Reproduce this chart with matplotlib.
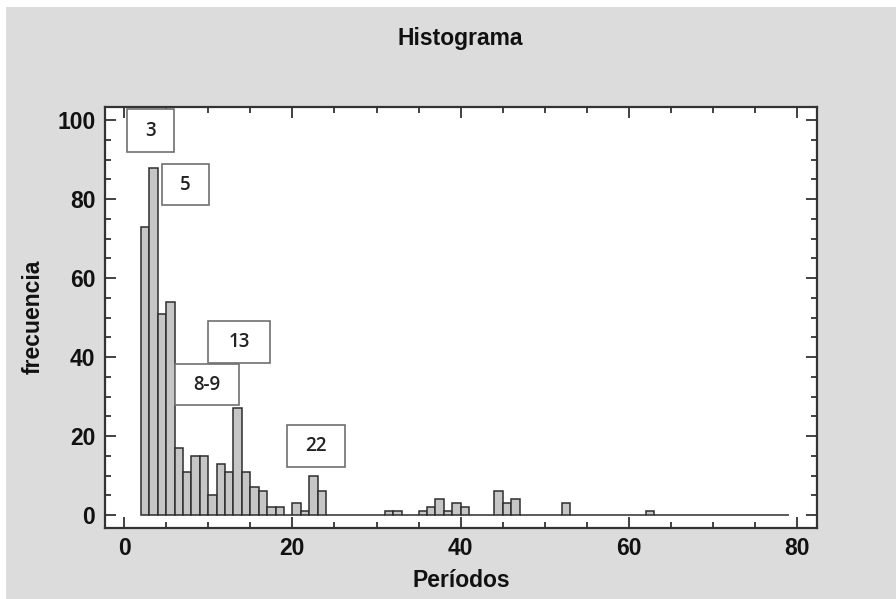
import matplotlib
matplotlib.use("Agg")
import matplotlib.pyplot as plt
from matplotlib.patches import Rectangle
from matplotlib.ticker import MultipleLocator

# histogram data: left edge of each 1-unit bin and its frequency
bin_edges = [2, 3, 4, 5, 6, 7, 8, 9, 10, 11,
             12, 13, 14, 15, 16, 17, 18, 19, 20, 21,
             22, 23, 24, 25, 26, 27, 28, 29, 30, 31,
             32, 33, 34, 35, 36, 37, 38, 39, 40, 41,
             42, 43, 44, 45, 46, 47, 48, 49, 50, 51,
             52, 53, 54, 55, 56, 57, 58, 59, 60, 61,
             62, 63, 64, 65, 66, 67, 68, 69, 70, 71,
             72, 73, 74, 75, 76, 77, 78]
frecuencia = [73, 88, 51, 54, 17, 11, 15, 15, 5, 13,
              11, 27, 11, 7, 6, 2, 2, 0, 3, 1,
              10, 6, 0, 0, 0, 0, 0, 0, 0, 1,
              1, 0, 0, 1, 2, 4, 1, 3, 2, 0,
              0, 0, 6, 3, 4, 0, 0, 0, 0, 0,
              3, 0, 0, 0, 0, 0, 0, 0, 0, 0,
              1, 0, 0, 0, 0, 0, 0, 0, 0, 0,
              0, 0, 0, 0, 0, 0, 0]

# annotation boxes: label, (x0, x1, y0, y1) in data units
box_labels = ["3", "5", "13", "8-9", "22"]
box_extents = [(0.32, 5.94, 92.0, 102.7),
               (4.48, 10.14, 78.5, 88.9),
               (10.02, 17.35, 38.6, 49.2),
               (6.06, 13.66, 27.8, 38.2),
               (19.4, 26.25, 12.2, 22.8)]

x_ticks = [0, 20, 40, 60, 80]
y_ticks = [0, 20, 40, 60, 80, 100]

bg = "#dcdcdc"
font = "Liberation Sans"
fs = 16.5

fig = plt.figure(figsize=(8.96, 5.99), dpi=100)
fig.patch.set_facecolor("white")
fig.patches.append(Rectangle((6 / 896, 0), 1, 1 - 7 / 599, transform=fig.transFigure,
                             facecolor=bg, edgecolor="none", zorder=-10))

ax = fig.add_axes([105 / 896, 1 - 527.7 / 599, (816.7 - 105) / 896, (527.7 - 106.7) / 599])
ax.set_facecolor("white")

ax.bar(bin_edges, frecuencia, width=1.0, align="edge",
       color="#c6c6c6", edgecolor="#2e2e2e", linewidth=1.1, zorder=2)

for lab, (x0, x1, y0, y1) in zip(box_labels, box_extents):
    ax.add_patch(Rectangle((x0, y0), x1 - x0, y1 - y0, facecolor="white",
                           edgecolor="#707070", linewidth=1.2, zorder=3))
    ax.text((x0 + x1) / 2, (y0 + y1) / 2, lab, ha="center", va="center",
            fontsize=13.5, family="Open Sans", fontweight="semibold",
            color="#222222", zorder=4)

ax.set_xlim(-2.26, 82.3)
ax.set_ylim(-3.2, 103.4)
ax.set_xticks(x_ticks)
ax.set_yticks(y_ticks)
ax.xaxis.set_minor_locator(MultipleLocator(5))
ax.yaxis.set_minor_locator(MultipleLocator(5))
ax.tick_params(which="both", direction="in", top=True, right=True,
               width=1.3, color="#333333")
ax.tick_params(which="major", length=8, pad=7, labelsize=fs)
ax.tick_params(which="minor", length=4)
for lbl in ax.get_xticklabels() + ax.get_yticklabels():
    lbl.set_family(font)
    lbl.set_fontweight("bold")
    lbl.set_color("#111111")

for sp in ax.spines.values():
    sp.set_linewidth(1.6)
    sp.set_color("#333333")

ax.set_xlabel("Períodos", family=font, fontweight="bold", fontsize=fs, labelpad=6, color="#111111")
ax.set_ylabel("frecuencia", family=font, fontweight="bold", fontsize=fs, labelpad=9, color="#111111")
fig.text(0.514, 1 - 38 / 599, "Histograma", ha="center", va="center",
         family=font, fontweight="bold", fontsize=fs, color="#111111")

fig.savefig("out.png", dpi=100, facecolor=fig.get_facecolor())
